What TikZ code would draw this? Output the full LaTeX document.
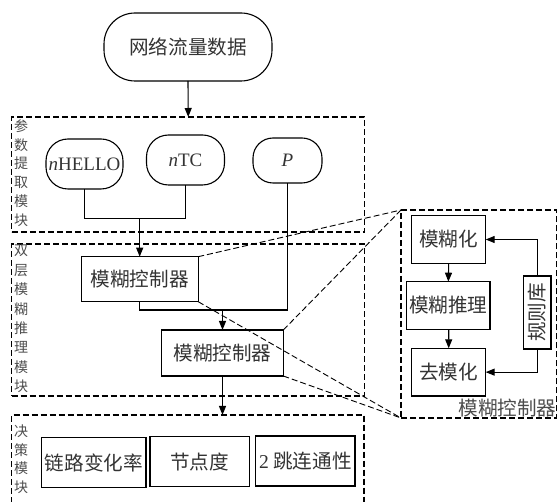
\documentclass[tikz,border=0pt]{standalone}
\usepackage{fontspec}
\setmainfont{Liberation Serif}
\newfontfamily\cjk{Noto Sans CJK SC}
\usetikzlibrary{arrows.meta}
\begin{document}
\begin{tikzpicture}[x=1pt,y=-1pt,
  every node/.style={inner sep=0pt, outer sep=0pt, text=black!80},
  box/.style={draw, line width=1.1pt, font=\cjk\fontsize{19.6}{19.6}\selectfont},
  latin/.style={font=\fontsize{19}{19}\selectfont\rmfamily},
  dbox/.style={draw, dash pattern=on 6pt off 3pt, line width=1.1pt},
  side/.style={font=\cjk\fontsize{14}{14}\selectfont, text=black!70},
  arr/.style={line width=1.1pt, -{Triangle[length=9pt,width=7pt]}},
  ln/.style={line width=1.1pt},
  zl/.style={dash pattern=on 6pt off 3pt, line width=0.9pt}]
\useasboundingbox (0,0) rectangle (558,502);

% top node
\node[box, minimum width=168pt, minimum height=68pt, rounded corners=31pt] (top) at (188,47) {网络流量数据};

% dashed module boxes
\node[dbox, minimum width=353pt, minimum height=115pt] (box1) at (188.25,174.5) {};
\node[dbox, minimum width=352.6pt, minimum height=152pt] (box2) at (188,320) {};
\draw[dash pattern=on 6pt off 3pt, line width=1.1pt] (11.7,503) -- (11.7,415) -- (364,415) -- (364,503);
\coordinate (b3top) at (222.5,415);

% side labels
\foreach \c [count=\i] in {参,数,提,取,模,块}
  \node[side] (sa\i) at (21,126+18.8*\i-18.8) {\c};
\foreach \c [count=\i] in {双,层,模,糊,推,理,模,块}
  \node[side] (sb\i) at (21,251+19.3*\i-19.3) {\c};
\foreach \c [count=\i] in {决,策,模,块}
  \node[side] (sc\i) at (21,431.5+18.5*\i-18.5) {\c};

% parameter nodes
\node[box, latin, minimum width=77pt, minimum height=50pt, rounded corners=22pt] (nh) at (84.5,164) {\textit{n}HELLO};
\node[box, latin, minimum width=78pt, minimum height=50pt, rounded corners=22pt] (ntc) at (185.5,160) {\textit{n}TC};
\node[box, latin, minimum width=69pt, minimum height=45pt, rounded corners=20pt] (p) at (287.5,160.5) {\textit{P}};

% fuzzy controllers
\node[box, minimum width=117pt, minimum height=45pt] (fc1) at (139.7,279.2) {模糊控制器};
\node[box, minimum width=121.6pt, minimum height=46pt] (fc2) at (222.5,353) {模糊控制器};

% decision nodes
\node[box, minimum width=104.3pt, minimum height=50pt] (d1) at (93.85,462.7) {链路变化率};
\node[box, minimum width=99.3pt, minimum height=50pt] (d2) at (199.65,461.7) {节点度};
\node[box, minimum width=99.3pt, minimum height=50pt] (d3) at (305.35,461) {{\rmfamily 2} 跳连通性};

% right panel
\node[dbox, minimum width=155.5pt, minimum height=208pt] (rb) at (478.75,314) {};
\node[box, minimum width=74pt, minimum height=47.6pt] (r1) at (448.7,239.5) {模糊化};
\node[box, minimum width=83.3pt, minimum height=47.6pt] (r2) at (448.35,305.5) {模糊推理};
\node[box, minimum width=74pt, minimum height=47.7pt] (r3) at (448.7,372.15) {去模化};
\node[box, minimum width=27.7pt, minimum height=73pt] (r4) at (537.15,312.5) {};
\node[font=\cjk\fontsize{19.6}{19.6}\selectfont, rotate=90] (r4t) at (r4.center) {规则库};
\node[font=\cjk\fontsize{19.6}{19.6}\selectfont, text=black!70] (rl) at (507.5,408) {模糊控制器};

% connectors
\draw[arr] (top.south) -- (box1.north);
\coordinate (j1) at (139.7,218.3);
\draw[ln] (nh.south) |- (j1) -| (ntc.south);
\draw[arr] (j1) -- (fc1.north);
\coordinate (j2) at (222.5,310);
\draw[ln] (fc1.south) |- (j2) -| (p.south);
\draw[arr] (j2) -- (fc2.north);
\draw[arr] (fc2.south) -- (b3top);

\draw[arr] (r1.south) -- (r2.north);
\draw[arr] ([xshift=0.35pt]r2.south) -- (r3.north);
\draw[arr] (r4.north) |- (r1.east);
\draw[arr] (r4.south) |- (r3.east);

% zoom lines
\draw[zl] (fc1.north east) -- (rb.north west);
\draw[zl] (fc1.south east) -- (rb.south west);
\draw[zl] (fc2.north east) -- (rb.north west);
\draw[zl] (fc2.south east) -- (rb.south west);
\end{tikzpicture}
\end{document}
